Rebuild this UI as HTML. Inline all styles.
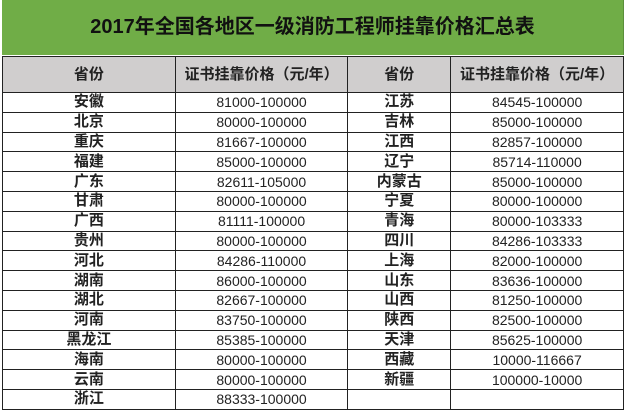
<!DOCTYPE html>
<html><head><meta charset="utf-8"><style>
body{margin:0;background:#fff;width:633px;height:411px;overflow:hidden;font-family:"Liberation Sans","Noto Sans CJK SC",sans-serif}
.t{position:absolute;left:2px;top:0;width:621px;height:55px;background:#70ad47;border-right:1px solid #5a8f3a;text-align:center;line-height:55px;font-size:20px;font-weight:bold;color:#111}
table{position:absolute;left:2px;top:56px;border-collapse:collapse;width:622px}
td{border:1px solid #222;text-align:center;height:18.8px;padding:0;font-size:14px;line-height:18px;color:#222}
tr.h td{background:#d0cece;height:35px;font-weight:bold;font-size:15px}
td.p{font-weight:bold;font-size:15px}
</style></head><body>
<div class="t">2017年全国各地区一级消防工程师挂靠价格汇总表</div>
<table>
<colgroup><col style="width:173px"><col style="width:173px"><col style="width:103px"><col style="width:173px"></colgroup>
<tr class="h"><td>省份</td><td>证书挂靠价格（元/年）</td><td>省份</td><td>证书挂靠价格（元/年）</td></tr>
<tr><td class="p">安徽</td><td>81000-100000</td><td class="p">江苏</td><td>84545-100000</td></tr>
<tr><td class="p">北京</td><td>80000-100000</td><td class="p">吉林</td><td>85000-100000</td></tr>
<tr><td class="p">重庆</td><td>81667-100000</td><td class="p">江西</td><td>82857-100000</td></tr>
<tr><td class="p">福建</td><td>85000-100000</td><td class="p">辽宁</td><td>85714-110000</td></tr>
<tr><td class="p">广东</td><td>82611-105000</td><td class="p">内蒙古</td><td>85000-100000</td></tr>
<tr><td class="p">甘肃</td><td>80000-100000</td><td class="p">宁夏</td><td>80000-100000</td></tr>
<tr><td class="p">广西</td><td>81111-100000</td><td class="p">青海</td><td>80000-103333</td></tr>
<tr><td class="p">贵州</td><td>80000-100000</td><td class="p">四川</td><td>84286-103333</td></tr>
<tr><td class="p">河北</td><td>84286-110000</td><td class="p">上海</td><td>82000-100000</td></tr>
<tr><td class="p">湖南</td><td>86000-100000</td><td class="p">山东</td><td>83636-100000</td></tr>
<tr><td class="p">湖北</td><td>82667-100000</td><td class="p">山西</td><td>81250-100000</td></tr>
<tr><td class="p">河南</td><td>83750-100000</td><td class="p">陕西</td><td>82500-100000</td></tr>
<tr><td class="p">黑龙江</td><td>85385-100000</td><td class="p">天津</td><td>85625-100000</td></tr>
<tr><td class="p">海南</td><td>80000-100000</td><td class="p">西藏</td><td>10000-116667</td></tr>
<tr><td class="p">云南</td><td>80000-100000</td><td class="p">新疆</td><td>100000-10000</td></tr>
<tr><td class="p">浙江</td><td>88333-100000</td><td></td><td></td></tr>
</table>
</body></html>
